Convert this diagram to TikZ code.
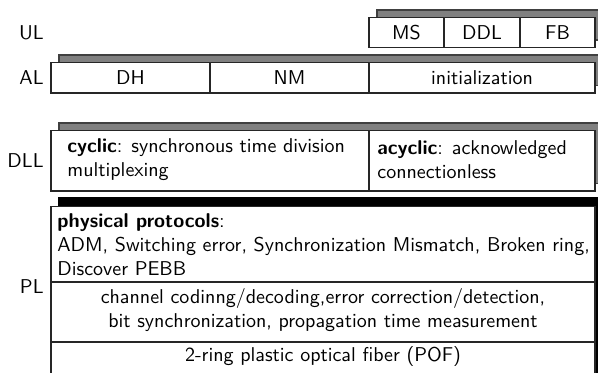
\documentclass[tikz,border=0pt]{standalone}
\usepackage{tikz}
\renewcommand{\familydefault}{\sfdefault}

\tikzset{
  cell/.style={draw=black!85, fill=white, line width=0.6pt},
  shadowbox/.style={draw=black!75, fill=black!50, line width=0.6pt},
  darkbox/.style={draw=black, fill=black, line width=0.6pt},
  tag/.style={anchor=east, inner sep=0pt},
  txt/.style={inner sep=0pt, align=left}
}

\begin{document}
\begin{tikzpicture}[x=0.5pt,y=-0.5pt]
\useasboundingbox (0,0) rectangle (598,372);
\clip (0,0) rectangle (598,372);

% layer labels
\node[tag] (ul)  at (44,33)  {UL};
\node[tag] (al)  at (44,78)  {AL};
\node[tag] (dll) at (44,161) {DLL};
\node[tag] (pl)  at (44,287) {PL};

% UL
\filldraw[shadowbox] (377,10) rectangle (605,40);
\filldraw[cell] (369,17.5) rectangle (595,47.5);
\draw[cell] (444,17.5) -- (444,47.5);
\draw[cell] (520,17.5) -- (520,47.5);
\node (ms)  at (406.5,32.5) {MS};
\node (ddl) at (482,32.5)   {DDL};
\node (fb)  at (557.5,32.5) {FB};

% AL
\filldraw[shadowbox] (59,55) rectangle (605,85.5);
\filldraw[cell] (51,62.5) rectangle (595,93);
\draw[cell] (210,62.5) -- (210,93);
\draw[cell] (369,62.5) -- (369,93);
\node (dh)   at (130.5,78) {DH};
\node (nm)   at (289.5,78) {NM};
\node (init) at (482,78)   {initialization};

% DLL
\filldraw[shadowbox] (59,123) rectangle (605,183.5);
\filldraw[cell] (51,130.5) rectangle (595,191);
\draw[cell] (369,130.5) -- (369,191);
\node[txt, anchor=west] (cyc)  at (67,160)
  {\textbf{cyclic}: synchronous time division\\multiplexing};
\node[txt, anchor=west] (acyc) at (377,160)
  {\textbf{acyclic}: acknowledged\\connectionless};

% PL
\filldraw[darkbox] (59,198) rectangle (605,390);
\filldraw[cell] (51,206.5) rectangle (595,400);
\draw[cell] (51,282) -- (595,282);
\draw[cell] (51,342) -- (595,342);
\node[txt, anchor=west] (phys) at (57,245)
  {\textbf{physical protocols}:\\
   ADM, Switching error, Synchronization Mismatch, Broken ring,\\
   Discover PEBB};
\node[txt, align=center] (chan) at (323,310)
  {channel codinng/decoding,error correction/detection,\\
   bit synchronization, propagation time measurement};
\node (pof) at (323,356) {2-ring plastic optical fiber (POF)};
\end{tikzpicture}
\end{document}
